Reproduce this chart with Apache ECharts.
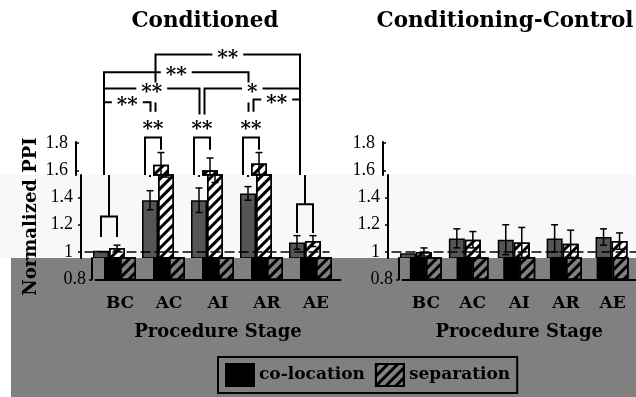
<!DOCTYPE html>
<html>
<head>
<meta charset="utf-8">
<style>
  html, body { margin: 0; padding: 0; background: #fff; }
  #chart { width: 636px; height: 397px; }
</style>
<script src="https://cdn.jsdelivr.net/npm/echarts@6/dist/echarts.min.js"></script>
</head>
<body>
<div id="chart"></div>
<script>
// ---- data ----
var categories = ['BC', 'AC', 'AI', 'AR', 'AE'];
var panelTitles = ['Conditioned', 'Conditioning-Control'];
var seriesNames = ['co-location', 'separation'];

var condColoc = [1.01, 1.38, 1.38, 1.43, 1.07];
var condColocErr = [0, 0.07, 0.09, 0.05, 0.05];
var condSep = [1.03, 1.64, 1.60, 1.65, 1.08];
var condSepErr = [0.02, 0.09, 0.09, 0.08, 0.04];

var ctrlColoc = [0.99, 1.10, 1.09, 1.10, 1.11];
var ctrlColocErr = [0, 0.07, 0.11, 0.10, 0.06];
var ctrlSep = [1.00, 1.09, 1.07, 1.06, 1.08];
var ctrlSepErr = [0.03, 0.06, 0.11, 0.10, 0.06];

var yTicksTop = [1.6, 1.8];
var yTicksMid = [1, 1.2, 1.4];
var yTicksLow = [0.8];

// between stages: [from, to, level, fromEnd, toEnd, label]
var groupBrackets = [
  ['AC', 'AE', 2.45, 2.03, 1.35, '**'],
  ['BC', 'AR', 2.32, 1.26, 2.03, '**'],
  ['BC', 'AI', 2.20, 1.26, 2.01, '**'],
  ['AI', 'AE', 2.20, 2.01, 1.35, '*'],
  ['BC', 'AC', 2.10, 1.26, 2.03, '**'],
  ['AR', 'AE', 2.12, 2.03, 1.35, '**']
];
// within a stage: [stage, level, colocEnd, sepEnd, label]
var pairBrackets = [
  ['BC', 1.26, 1.11, 1.11, ''],
  ['AC', 1.84, 1.55, 1.75, '**'],
  ['AI', 1.84, 1.55, 1.75, '**'],
  ['AR', 1.84, 1.55, 1.75, '**'],
  ['AE', 1.35, 1.14, 1.14, '']
];

// ---- layout ----
var Y_ONE = 252, PX_PER_UNIT = 136.25, BAR_WIDTH = 16;
function pxToVal(y) { return 1 + (Y_ONE - y) / PX_PER_UNIT; }

var panels = [
  { left: 84.5, width: 245, titleX: 200, coloc: condColoc, colocErr: condColocErr, sep: condSep, sepErr: condSepErr, brackets: true, yName: 'Normalized PPI' },
  { left: 391.5, width: 245, titleX: 500, coloc: ctrlColoc, colocErr: ctrlColocErr, sep: ctrlSep, sepErr: ctrlSepErr, brackets: false, yName: '' }
];
// the picture is cut in horizontal strips that are shifted sideways
var bands = [
  { key: 'top', top: 142, bottom: 175, dx: -5 },
  { key: 'ann', top: 40, bottom: 175, dx: -5 },
  { key: 'mid', top: 175, bottom: 258, dx: 0 },
  { key: 'low', top: 258, bottom: Y_ONE + 0.2 * PX_PER_UNIT, dx: 11 }
];

var serif = 'DejaVu Serif';
var tickFont = { fontFamily: 'Liberation Serif', fontSize: 18, color: '#000' };
var black2 = { color: '#000', width: 2 };

function sharedEnd(cat) {
  var asFrom = groupBrackets.some(function (b) { return b[0] === cat; });
  var asTo = groupBrackets.some(function (b) { return b[1] === cat; });
  return asFrom && asTo;
}

function renderErrorBar(params, api) {
  var cat = api.value(0), val = api.value(1), err = api.value(2), side = api.value(3);
  if (!err) return null;
  var hi = api.coord([cat, val + err]), lo = api.coord([cat, val - err]);
  var x = hi[0] + side * BAR_WIDTH / 2, cap = 3.5;
  var st = { stroke: '#000', lineWidth: 1.5 };
  return {
    type: 'group',
    children: [
      { type: 'line', shape: { x1: x, y1: hi[1], x2: x, y2: lo[1] }, style: st },
      { type: 'line', shape: { x1: x - cap, y1: hi[1], x2: x + cap, y2: hi[1] }, style: st },
      { type: 'line', shape: { x1: x - cap, y1: lo[1], x2: x + cap, y2: lo[1] }, style: st }
    ]
  };
}

var starStyle = { fill: '#000', fontFamily: serif, fontWeight: 'bold', fontSize: 20, align: 'center', verticalAlign: 'middle' };

function renderGroupBracket(params, api) {
  var b = groupBrackets[params.dataIndex];
  var i0 = categories.indexOf(b[0]), i1 = categories.indexOf(b[1]);
  var top0 = api.coord([i0, b[2]]), top1 = api.coord([i1, b[2]]);
  var end0 = api.coord([i0, b[3]]), end1 = api.coord([i1, b[4]]);
  var x0 = top0[0] + (sharedEnd(b[0]) ? 2.5 : 0);
  var x1 = top1[0] - (sharedEnd(b[1]) ? 2.5 : 0);
  var y = top0[1];
  return {
    type: 'group',
    children: [
      { type: 'polyline', shape: { points: [[x0, end0[1]], [x0, y], [x1, y], [x1, end1[1]]] }, style: { stroke: '#000', lineWidth: 2, fill: null } },
      { type: 'text', x: (x0 + x1) / 2, y: y + 4, style: Object.assign({ text: b[5], backgroundColor: '#fff', padding: [0, 5] }, starStyle) }
    ]
  };
}

function renderPairBracket(params, api) {
  var b = pairBrackets[params.dataIndex];
  var i = categories.indexOf(b[0]);
  var top = api.coord([i, b[1]]);
  var e0 = api.coord([i, b[2]]), e1 = api.coord([i, b[3]]);
  var x0 = top[0] - BAR_WIDTH / 2, x1 = top[0] + BAR_WIDTH / 2;
  var children = [
    { type: 'polyline', shape: { points: [[x0, e0[1]], [x0, top[1]], [x1, top[1]], [x1, e1[1]]] }, style: { stroke: '#000', lineWidth: 2, fill: null } }
  ];
  if (b[4]) {
    children.push({ type: 'text', x: top[0], y: top[1] - 8, style: Object.assign({ text: b[4] }, starStyle) });
  }
  return { type: 'group', children: children };
}

var grids = [], xAxes = [], yAxes = [], series = [];

panels.forEach(function (p, pi) {
  bands.forEach(function (b) {
    var gi = grids.length;
    var low = b.key === 'low';
    var z = low ? 10 : 2;
    grids.push({ left: p.left + b.dx, width: p.width, top: b.top, height: b.bottom - b.top });

    var xa = { type: 'category', gridIndex: gi, data: categories, show: false };
    if (low) {
      xa = {
        type: 'category', gridIndex: gi, data: categories, z: 10,
        axisLine: { lineStyle: black2 }, axisTick: { show: false },
        axisLabel: { margin: 16, color: '#000', fontFamily: serif, fontWeight: 'bold', fontSize: 17 },
        name: 'Procedure Stage', nameLocation: 'middle', nameGap: 44,
        nameTextStyle: { color: '#000', fontFamily: serif, fontWeight: 'bold', fontSize: 18 }
      };
    }
    xAxes.push(xa);

    var ticks = b.key === 'top' ? yTicksTop : b.key === 'mid' ? yTicksMid : yTicksLow;
    var ya = {
      type: 'value', gridIndex: gi, min: pxToVal(b.bottom), max: pxToVal(b.top),
      offset: 3.5, splitLine: { show: false }
    };
    if (b.key === 'ann') {
      ya.show = false;
    } else {
      ya.z = (low || b.key === 'mid') ? 10 : 0;
      ya.axisLine = { show: true, lineStyle: black2 };
      ya.axisTick = { show: true, inside: b.key === 'top', length: 3, customValues: ticks, lineStyle: { color: '#000', width: 1.5 } };
      ya.axisLabel = Object.assign({ customValues: ticks, margin: b.key === 'low' ? 6 : 8 }, tickFont);
      if (b.key === 'mid' && p.yName) {
        ya.name = p.yName;
        ya.nameLocation = 'middle';
        ya.nameRotate = 90;
        ya.nameGap = 41;
        ya.nameTextStyle = { color: '#000', fontFamily: serif, fontWeight: 'bold', fontSize: 18 };
      }
    }
    if (low) ya.min = 0.8;
    yAxes.push(ya);

    if (b.key !== 'ann') {
      var colocBar = {
        type: 'bar', name: low ? seriesNames[0] : seriesNames[0] + '-' + b.key,
        xAxisIndex: gi, yAxisIndex: gi, z: z, barWidth: BAR_WIDTH, barGap: '0%',
        data: p.coloc,
        itemStyle: { color: low ? '#000' : '#555', borderColor: '#000', borderWidth: 1.5 }
      };
      if (b.key === 'mid') {
        colocBar.markLine = {
          silent: true, symbol: 'none', label: { show: false },
          lineStyle: { color: '#000', width: 1.5, type: [10, 4] },
          data: [{ yAxis: 1 }]
        };
      }
      series.push(colocBar);
      series.push({
        type: 'bar', name: low ? seriesNames[1] : seriesNames[1] + '-' + b.key,
        xAxisIndex: gi, yAxisIndex: gi, z: z, barWidth: BAR_WIDTH, barGap: '0%',
        data: p.sep,
        itemStyle: {
          color: low ? '#808080' : '#fff', borderColor: '#000', borderWidth: 1.5,
          decal: { symbol: 'rect', symbolSize: 1, color: '#000', dashArrayX: [1, 0], dashArrayY: [2.5, 3.5], rotation: -Math.PI / 4 }
        }
      });
      series.push({
        type: 'custom', xAxisIndex: gi, yAxisIndex: gi, z: z + 1, clip: true,
        renderItem: renderErrorBar,
        data: p.coloc.map(function (v, i) { return [i, v, p.colocErr[i], -1]; })
          .concat(p.sep.map(function (v, i) { return [i, v, p.sepErr[i], 1]; }))
      });
    }

    if (p.brackets && (b.key === 'ann' || b.key === 'mid')) {
      series.push({
        type: 'custom', xAxisIndex: gi, yAxisIndex: gi, z: 3, clip: true,
        renderItem: renderGroupBracket,
        data: groupBrackets.map(function (g, i) { return [i]; })
      });
      series.push({
        type: 'custom', xAxisIndex: gi, yAxisIndex: gi, z: 3, clip: true,
        renderItem: renderPairBracket,
        data: pairBrackets.map(function (g, i) { return [i]; })
      });
    }
  });
});

var chart = echarts.init(document.getElementById('chart'));
chart.setOption({
  animation: false,
  backgroundColor: '#fff',
  textStyle: { fontFamily: serif },
  title: panels.map(function (p, pi) {
    return {
      text: panelTitles[pi], left: p.titleX, top: 5, textAlign: 'center',
      textStyle: { color: '#000', fontFamily: serif, fontWeight: 'bold', fontSize: 21.5 }
    };
  }),
  legend: {
    data: seriesNames, left: 218, top: 357, z: 10,
    icon: 'rect', itemWidth: 28, itemHeight: 22, itemGap: 10,
    padding: [6, 7], borderColor: '#000', borderWidth: 2,
    textStyle: { color: '#000', fontFamily: serif, fontWeight: 'bold', fontSize: 17 }
  },
  graphic: [
    { type: 'rect', z: -1, silent: true, shape: { x: 0, y: 175, width: 636, height: 83 }, style: { fill: '#f8f8f8' } },
    { type: 'rect', z: 5, silent: true, shape: { x: 11, y: 258, width: 625, height: 139 }, style: { fill: '#808080' } }
  ],
  grid: grids,
  xAxis: xAxes,
  yAxis: yAxes,
  series: series
});
</script>
</body>
</html>
